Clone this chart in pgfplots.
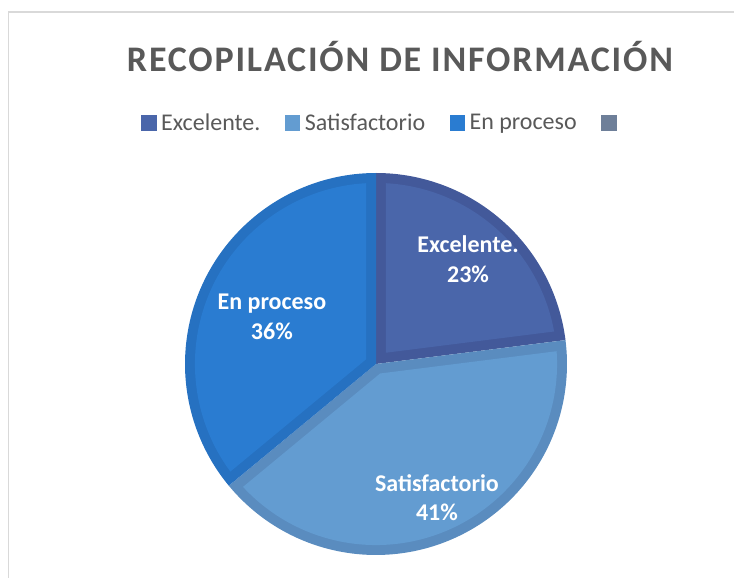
\documentclass[border=0pt]{standalone}
\usepackage{fontspec}
\setmainfont{Carlito}
\usepackage{pgfplots}
\usepackage{pgfplotstable}
\pgfplotsset{compat=1.18}
\definecolor{exDark}{HTML}{43599A}
\definecolor{exLight}{HTML}{4A66AA}
\definecolor{saDark}{HTML}{5A8CBF}
\definecolor{saLight}{HTML}{639CD1}
\definecolor{epDark}{HTML}{2671C1}
\definecolor{epLight}{HTML}{2A7CD1}
\definecolor{lgGray}{HTML}{6E7F99}
\definecolor{txt}{HTML}{595959}
\definecolor{frame}{HTML}{D9D9D9}

\pgfplotstableread[col sep=comma]{
label,pct
Excelente.,23
Satisfactorio,41
En proceso,36
}\piedata

\newcommand{\bw}{0.052}
\newcommand{\ir}{0.948}
\newcommand{\pieslice}[4]{%
 \pgfmathsetmacro{\sA}{#1}%
 \pgfmathsetmacro{\sB}{#2}%
 \pgfmathsetmacro{\dl}{asin(\bw/\ir)}%
 \pgfmathsetmacro{\hA}{(\sB-\sA)/2}%
 \pgfmathsetmacro{\mA}{(\sB+\sA)/2}%
 \pgfmathsetmacro{\dP}{\bw/sin(\hA)}%
 \pgfmathsetmacro{\pX}{\dP*cos(\mA)}%
 \pgfmathsetmacro{\pY}{\dP*sin(\mA)}%
 \pgfmathsetmacro{\iA}{\sA+\dl}%
 \pgfmathsetmacro{\iB}{\sB-\dl}%
 \edef\doslice{%
  \noexpand\addplot[fill=#3, draw=none, domain=\sA:\sB, samples=100] ({cos(x)},{sin(x)}) -- (axis cs:0,0) -- cycle;%
  \noexpand\addplot[fill=#4, draw=none, domain=\iA:\iB, samples=100] ({\ir*cos(x)},{\ir*sin(x)}) -- (axis cs:\pX,\pY) -- cycle;%
 }\doslice
}

\begin{document}
\begin{tikzpicture}
\useasboundingbox (0pt,0pt) rectangle (734pt,578pt);
\draw[frame, line width=1.6pt] (8.5pt,-5pt) -- (8.5pt,566pt) -- (745pt,566pt);
\node[anchor=base, text=txt, font=\fontsize{36}{40}\selectfont\bfseries\addfontfeature{LetterSpace=5}] at (400pt,506pt) {RECOPILACIÓN DE INFORMACIÓN};

\pgfplotstablegetelem{0}{pct}\of\piedata \edef\pA{\pgfplotsretval}
\pgfplotstablegetelem{1}{pct}\of\piedata \edef\pB{\pgfplotsretval}
\pgfplotstablegetelem{2}{pct}\of\piedata \edef\pC{\pgfplotsretval}
\pgfmathsetmacro{\aA}{90}
\pgfmathsetmacro{\aB}{90-3.6*\pA}
\pgfmathsetmacro{\aC}{\aB-3.6*\pB}
\pgfmathsetmacro{\aD}{\aC-3.6*\pC}

\begin{axis}[
  at={(376pt,214pt)}, anchor=center,
  scale only axis, width=382pt, height=382pt,
  xmin=-1, xmax=1, ymin=-1, ymax=1,
  hide axis, clip=false,
  legend style={draw=none, fill=none, at={(axis description cs:-0.115,1.131)}, anchor=west,
    inner sep=0pt, font=\fontsize{24}{28}\selectfont, text=txt,
    nodes={inner sep=1.5pt},
    /tikz/every even column/.append style={column sep=23pt},
    /tikz/every odd column/.append style={column sep=3.5pt}},
  legend columns=4,
  legend cell align=left,
]
\addlegendimage{legend image code/.code={\fill[exLight] (0pt,-7pt) rectangle (14.5pt,7.5pt);}}
\addlegendentry{Excelente.}
\addlegendimage{legend image code/.code={\fill[saLight] (0pt,-7pt) rectangle (14.5pt,7.5pt);}}
\addlegendentry{Satisfactorio}
\addlegendimage{legend image code/.code={\fill[epLight] (0pt,-7pt) rectangle (14.5pt,7.5pt);}}
\addlegendentry{En proceso}
\addlegendimage{legend image code/.code={\fill[lgGray] (0pt,-7pt) rectangle (14.5pt,7.5pt);}}
\addlegendentry{\mbox{}}

\pieslice{\aB}{\aA}{exDark}{exLight}
\pieslice{\aC}{\aB}{saDark}{saLight}
\pieslice{\aD}{\aC}{epDark}{epLight}

\begin{scope}[every node/.style={text=white, font=\fontsize{24}{28}\selectfont\bfseries, anchor=base}]
\node at (axis cs:0.482,0.586) {Excelente.};
\node at (axis cs:0.482,0.429) {\pA\%};
\node at (axis cs:-0.545,0.283) {En proceso};
\node at (axis cs:-0.545,0.126) {\pC\%};
\node at (axis cs:0.319,-0.670) {Satisfactorio};
\node at (axis cs:0.319,-0.822) {\pB\%};
\end{scope}
\end{axis}
\end{tikzpicture}
\end{document}
